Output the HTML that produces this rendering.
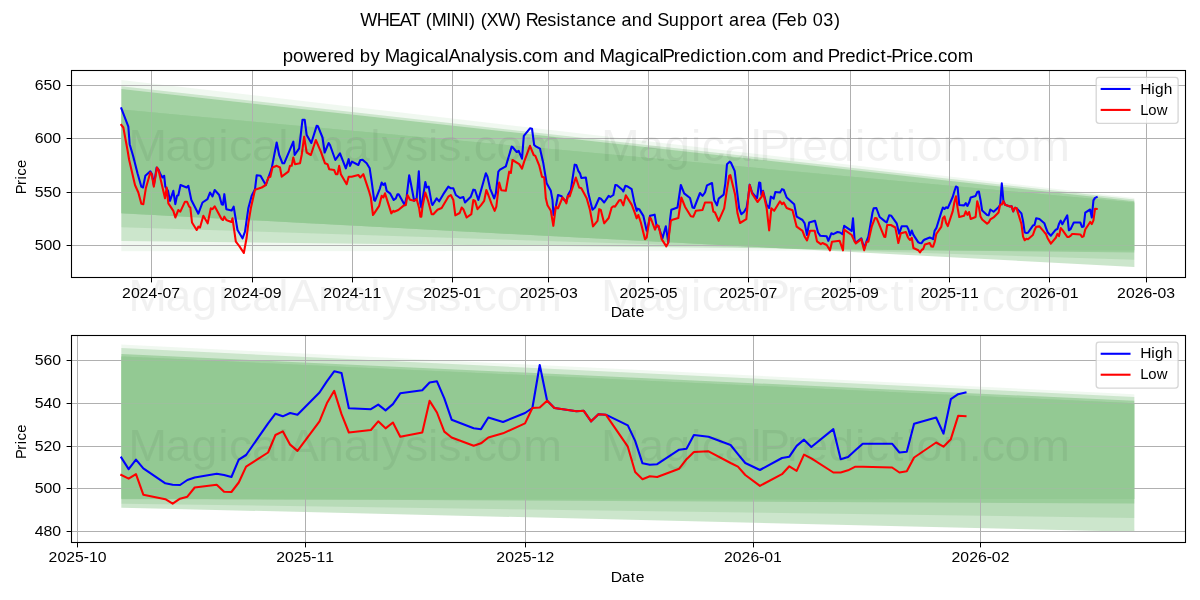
<!DOCTYPE html>
<html><head><meta charset="utf-8"><title>WHEAT (MINI) (XW) Resistance and Support area</title>
<style>html,body{margin:0;padding:0;background:#fff;font-family:"Liberation Sans",sans-serif}svg{display:block;will-change:transform}</style>
</head><body>
<svg width="1200" height="600" viewBox="0 0 1200 600">
<defs>
<clipPath id="c1"><rect x="71.5" y="70.5" width="1114.0" height="207.0"/></clipPath>
<clipPath id="c2"><rect x="71.5" y="335.5" width="1114.0" height="207.0"/></clipPath>
</defs>
<rect width="1200" height="600" fill="#fff"/>
<g clip-path="url(#c1)">
<polygon points="121.30,79.90 1134.35,198.00 1134.35,250.30 121.30,251.30" fill="#008000" fill-opacity="0.060"/>
<polygon points="121.30,86.30 1134.35,199.40 1134.35,252.60 121.30,241.00" fill="#008000" fill-opacity="0.150"/>
<polygon points="121.30,109.50 1134.35,202.60 1134.35,259.80 121.30,227.30" fill="#008000" fill-opacity="0.100"/>
<polygon points="121.30,89.00 1134.35,201.30 1134.35,267.00 121.30,213.30" fill="#008000" fill-opacity="0.200"/>
<path d="M151.5 70.5V277.5M252.5 70.5V277.5M352.5 70.5V277.5M452.5 70.5V277.5M548.5 70.5V277.5M648.5 70.5V277.5M748.5 70.5V277.5M850.5 70.5V277.5M949.5 70.5V277.5M1049.5 70.5V277.5M1146.5 70.5V277.5M71.5 245.5H1185.5M71.5 192.5H1185.5M71.5 138.5H1185.5M71.5 85.5H1185.5" stroke="#b0b0b0" stroke-width="1" fill="none"/>
<polygon points="121.30,109.50 138.18,111.05 155.07,112.60 171.95,114.16 188.84,115.71 205.72,117.26 222.61,118.81 239.49,120.36 256.37,121.91 273.26,123.47 290.14,125.02 307.03,126.57 323.91,128.12 340.79,129.67 357.68,131.22 374.56,132.78 391.45,134.33 408.33,135.88 425.21,137.43 442.10,138.98 458.98,140.53 475.87,142.08 492.75,143.64 509.64,145.19 526.52,146.74 543.40,148.29 560.29,149.84 577.17,151.39 594.06,152.95 610.94,154.50 627.82,156.05 644.71,157.60 661.59,159.15 678.48,160.70 695.36,162.26 712.25,163.81 729.13,165.36 746.01,166.91 762.90,168.46 779.78,170.01 796.67,171.57 813.55,173.12 830.43,174.67 847.32,176.22 864.20,177.77 881.09,179.32 897.97,180.88 914.86,182.43 931.74,183.98 948.62,185.53 965.51,187.08 982.39,188.63 999.28,190.19 1016.16,191.74 1033.05,193.29 1049.93,194.84 1066.81,196.39 1083.70,197.94 1100.58,199.50 1117.47,201.05 1134.35,202.60 1134.35,250.30 1117.47,250.32 1100.58,250.33 1083.70,250.35 1066.81,250.37 1049.93,250.38 1033.05,250.40 1016.16,250.42 999.28,250.43 982.39,250.45 965.51,250.47 948.62,250.47 931.74,250.28 914.86,250.09 897.97,249.89 881.09,249.70 864.20,249.51 847.32,249.31 830.43,249.12 813.55,248.93 796.67,248.73 779.78,248.21 762.90,247.31 746.01,246.42 729.13,245.52 712.25,244.62 695.36,243.73 678.48,242.84 661.59,241.94 644.71,241.05 627.82,240.15 610.94,239.25 594.06,238.36 577.17,237.47 560.29,236.57 543.40,235.68 526.52,234.78 509.64,233.89 492.75,232.99 475.87,232.09 458.98,231.20 442.10,230.31 425.21,229.41 408.33,228.52 391.45,227.62 374.56,226.73 357.68,225.83 340.79,224.94 323.91,224.04 307.03,223.15 290.14,222.25 273.26,221.36 256.37,220.46 239.49,219.56 222.61,218.67 205.72,217.78 188.84,216.88 171.95,215.99 155.07,215.09 138.18,214.20 121.30,213.30" fill="#94ca94" fill-opacity="0.65"/>
<polyline points="121.33,108.33 128.33,126.67 129.67,144.17 133.33,156.67 137.50,173.33 141.33,186.67 143.00,187.50 145.33,175.83 150.33,171.33 152.00,174.17 153.83,185.00 156.67,167.50 158.67,170.00 160.33,174.17 162.50,177.50 164.17,175.83 165.33,186.67 168.00,190.83 170.00,200.83 173.33,190.83 175.33,204.17 177.00,195.83 178.33,195.33 180.50,185.00 186.67,187.50 188.33,185.83 191.33,200.00 198.33,213.67 202.50,202.50 207.50,199.17 210.00,192.50 212.50,196.33 214.67,190.00 219.17,195.00 221.67,204.17 223.00,204.67 224.33,194.17 226.33,209.17 231.67,210.50 233.67,206.67 237.50,230.00 242.50,238.33 245.00,231.67 248.33,208.33 251.67,195.83 255.00,189.17 256.67,175.33 260.50,175.83 265.83,185.00 271.67,168.33 276.67,142.50 279.17,155.00 282.50,163.33 284.17,163.33 293.33,141.67 294.67,155.00 299.17,148.33 302.50,119.67 304.67,119.67 306.67,135.00 311.33,143.00 316.67,125.83 318.00,126.33 322.50,137.50 324.67,152.50 328.67,143.00 330.00,145.00 335.33,160.00 340.00,153.33 345.83,168.33 348.67,159.17 350.00,165.83 352.00,161.67 358.33,165.00 360.33,160.00 362.50,159.67 366.67,163.33 369.67,168.33 371.67,181.67 374.17,200.00 375.00,200.83 380.00,188.33 381.67,182.50 383.33,185.00 385.00,183.33 386.67,190.83 390.00,193.33 393.67,200.00 395.83,198.33 397.50,194.17 398.67,194.17 404.67,205.00 406.67,196.67 409.17,175.33 410.83,183.33 414.17,200.83 416.67,198.33 418.83,171.33 420.33,203.33 421.33,207.50 425.33,182.00 426.67,187.50 428.67,186.67 431.67,203.33 432.50,205.00 436.67,198.33 439.17,201.33 443.33,194.17 448.33,186.67 450.83,188.33 453.33,188.33 455.83,195.00 460.00,198.00 463.33,197.00 465.00,202.50 470.83,196.67 473.33,189.67 475.00,190.00 478.33,200.00 485.83,173.33 487.50,176.67 490.00,188.33 494.17,198.33 495.83,193.33 498.33,171.67 500.00,169.67 505.83,166.33 511.67,146.67 512.50,147.00 516.67,152.00 518.67,150.83 522.00,158.67 523.83,135.83 530.00,128.33 532.00,128.67 534.17,145.00 535.83,146.33 540.00,148.67 543.33,163.33 546.67,183.33 550.83,190.83 552.50,200.00 553.50,215.00 555.83,206.67 558.00,195.00 561.67,196.33 563.33,199.17 566.33,201.67 568.00,195.00 570.83,190.00 574.67,164.67 576.33,165.00 578.33,170.83 580.00,173.33 581.33,178.00 585.83,177.50 588.33,193.33 592.50,209.67 595.00,207.50 599.17,198.00 600.83,198.67 604.17,202.50 608.67,195.83 610.33,197.00 613.33,195.00 615.33,185.00 617.00,185.33 622.50,190.00 623.33,191.33 625.33,185.83 627.00,186.17 631.67,189.17 634.17,201.67 636.67,210.83 637.50,208.67 639.17,209.17 643.33,215.83 646.67,230.83 647.50,229.17 650.00,215.83 654.67,214.67 656.67,226.67 658.33,225.83 662.50,238.33 665.83,226.33 668.33,242.50 670.00,220.00 671.33,209.67 677.50,207.50 680.83,185.00 684.17,193.33 690.00,198.00 692.50,207.50 694.17,208.00 700.00,193.00 702.50,195.83 705.00,192.50 707.00,185.33 712.00,183.00 714.17,200.00 717.00,205.33 718.67,198.67 723.67,194.67 725.33,183.33 727.00,164.17 729.67,161.67 730.83,162.50 734.67,170.83 736.67,188.33 739.17,208.33 741.33,214.17 744.17,211.67 746.67,207.50 748.33,196.67 749.67,184.67 752.00,192.50 757.00,198.33 759.17,182.50 760.33,183.00 761.33,195.00 763.00,190.83 766.67,205.00 769.17,208.00 770.83,196.67 773.67,198.67 775.33,192.00 780.00,192.50 782.00,189.17 783.67,189.67 786.67,197.50 794.17,204.17 796.67,216.67 802.50,220.00 804.67,223.33 807.00,235.00 809.17,222.50 815.00,220.83 818.00,232.50 820.33,235.83 826.67,236.33 828.33,240.83 831.33,233.33 833.33,234.17 837.50,232.00 840.00,232.50 842.50,234.17 844.17,225.83 851.67,230.83 853.00,218.33 854.67,240.83 855.83,242.50 861.33,238.33 864.17,248.33 866.67,240.83 868.33,236.67 872.50,212.50 873.67,208.33 876.33,208.00 879.67,217.00 885.00,221.33 886.67,222.50 889.17,215.33 891.33,215.83 896.67,223.33 899.17,233.67 901.67,226.33 907.00,226.33 908.50,229.46 910.14,235.28 911.77,230.54 913.41,234.86 918.32,242.34 919.96,243.01 921.59,243.17 923.23,240.68 924.87,239.43 929.78,237.52 931.41,238.19 933.05,239.18 934.69,230.54 936.32,228.21 941.23,212.41 942.87,207.59 944.51,208.92 946.14,207.26 947.78,208.09 952.69,197.03 954.33,191.46 955.96,186.47 957.60,187.31 959.24,204.93 964.15,205.35 965.78,203.10 967.42,205.93 969.05,202.85 970.69,197.45 975.60,195.95 977.24,192.04 978.87,191.46 980.51,199.94 982.15,210.58 987.06,214.91 988.69,215.32 990.33,209.50 993.60,211.75 998.51,207.26 1000.15,204.76 1001.79,183.31 1003.42,201.02 1005.06,204.76 1009.97,206.43 1011.61,206.18 1013.24,211.42 1014.88,207.84 1016.52,208.09 1021.43,213.41 1023.06,221.14 1024.70,232.37 1026.34,233.03 1027.97,232.78 1032.88,225.55 1034.52,225.05 1036.16,218.23 1039.43,219.06 1044.34,223.22 1045.97,227.79 1047.61,232.20 1050.88,235.69 1055.79,229.71 1057.43,229.04 1059.07,223.64 1060.70,220.56 1062.34,224.22 1067.25,215.32 1068.89,230.29 1070.52,229.21 1072.16,225.88 1073.80,222.56 1080.34,222.56 1081.98,226.96 1083.62,226.55 1085.25,212.58 1090.16,209.50 1091.80,217.57 1093.44,200.36 1095.07,197.86 1096.71,197.03" fill="none" stroke="#0000ff" stroke-width="2.08" stroke-linejoin="round" stroke-linecap="square"/>
<polyline points="121.33,125.00 123.33,127.50 127.50,150.00 129.17,160.00 135.00,185.00 138.33,192.50 141.33,203.67 143.33,204.17 145.83,188.33 150.33,172.50 151.67,174.17 153.83,186.67 157.00,167.50 158.67,170.83 162.50,187.50 165.00,198.33 166.67,187.50 168.33,203.33 173.33,210.83 175.33,217.50 178.33,210.00 180.33,211.67 185.00,201.67 187.00,201.67 189.17,206.67 190.33,207.50 192.00,222.50 196.67,230.00 198.33,226.67 200.00,227.50 203.33,215.83 207.67,223.33 210.83,208.33 212.50,209.17 214.67,206.33 221.67,219.17 223.00,220.00 224.33,216.67 226.33,220.00 231.33,222.00 232.50,218.33 235.83,241.67 239.17,245.83 243.83,253.00 246.67,237.50 248.33,223.33 250.83,208.33 255.00,189.67 261.67,187.50 265.83,185.00 268.33,177.50 270.33,176.67 272.50,167.50 276.67,165.83 280.00,167.50 281.67,176.67 288.33,171.67 290.00,165.83 291.67,165.83 293.33,157.50 295.00,164.17 300.00,163.33 301.67,155.00 304.17,136.67 306.67,152.50 310.83,155.00 315.83,140.00 320.83,151.67 325.00,163.33 327.50,164.17 329.17,169.17 334.17,170.00 335.83,174.17 337.50,174.17 339.17,165.83 340.83,174.17 346.67,184.17 348.67,176.67 351.67,176.67 358.33,175.00 360.33,177.50 363.33,174.17 369.17,191.67 370.83,197.50 373.00,215.00 374.17,213.33 379.17,205.83 381.67,195.83 383.33,197.50 385.00,193.33 391.33,213.33 393.33,210.83 394.17,211.67 398.33,210.00 403.33,205.83 405.83,205.00 407.50,195.00 410.00,199.67 414.17,200.83 416.67,199.17 419.17,208.33 420.33,216.67 421.33,216.67 422.50,206.67 425.33,192.50 428.33,201.67 431.67,214.17 433.33,214.17 437.50,209.67 441.67,208.00 448.33,196.67 450.83,195.00 453.33,200.00 455.33,215.33 459.67,213.00 461.67,207.50 463.33,209.17 466.67,217.50 471.33,214.17 473.33,200.00 475.00,200.83 477.50,209.17 480.83,205.33 484.17,200.83 486.33,190.00 488.33,195.00 491.67,204.17 494.67,210.83 496.33,206.67 499.17,182.50 501.33,190.33 505.83,190.83 509.17,171.67 510.83,173.00 512.50,160.00 519.17,164.17 522.00,168.67 524.17,161.67 530.00,145.83 533.67,155.00 535.33,155.83 539.17,165.33 542.00,176.67 544.17,177.50 545.83,198.33 547.50,205.33 550.83,210.83 553.33,225.83 555.83,206.67 558.00,208.33 562.50,197.50 564.17,199.17 566.33,203.33 568.00,195.83 569.67,196.33 575.83,177.50 579.17,187.50 581.33,188.33 586.67,198.33 590.00,210.00 593.00,226.33 597.50,220.83 599.17,209.17 600.83,210.00 604.17,223.33 608.67,218.00 611.67,207.50 613.33,206.33 615.00,206.67 619.17,200.33 620.83,200.00 623.33,205.33 625.83,195.33 631.67,204.67 635.00,213.33 636.67,218.33 638.33,215.00 640.83,222.50 645.00,239.17 646.67,237.50 649.67,217.50 650.83,218.33 655.00,229.67 657.00,225.00 658.67,226.33 661.67,239.17 666.33,246.33 668.00,243.33 670.83,220.83 672.50,219.67 678.33,218.00 681.33,197.50 685.00,206.67 690.83,216.33 693.33,216.67 695.83,210.83 702.50,210.00 705.00,202.50 711.67,202.50 713.33,211.67 715.00,212.50 718.67,220.83 724.17,208.33 726.67,191.67 729.17,175.83 730.33,175.00 735.00,194.17 737.50,213.33 740.00,223.00 746.33,219.17 748.33,196.67 749.67,185.00 752.00,193.33 757.50,202.00 761.67,196.67 763.00,191.67 766.67,208.33 769.17,230.33 771.33,208.33 774.17,210.83 780.00,201.33 782.00,204.17 783.67,202.50 786.67,208.00 792.50,210.33 796.67,226.67 802.50,230.83 804.67,236.67 807.00,240.33 810.00,230.83 814.67,230.83 817.00,241.33 820.83,244.17 822.50,243.00 826.67,245.00 830.00,250.33 832.00,241.67 839.67,240.83 843.00,250.33 844.17,229.67 851.67,235.00 854.67,241.67 855.83,243.33 861.33,239.17 864.17,250.33 866.67,241.67 868.33,241.67 871.67,226.67 875.00,218.00 876.67,218.33 884.17,236.67 885.33,237.00 887.17,225.00 890.83,225.00 895.33,227.50 898.33,243.00 900.83,233.33 905.83,232.00 908.00,237.50 908.50,238.19 910.14,240.01 911.77,237.77 913.41,248.00 918.32,250.24 919.96,252.49 921.59,249.99 923.23,248.99 924.87,244.42 929.78,243.01 931.41,246.50 933.05,246.67 934.69,241.93 936.32,234.03 941.23,226.96 942.87,218.23 944.51,216.40 946.14,223.05 947.78,226.13 952.69,211.42 954.33,202.44 955.96,196.20 957.60,207.84 959.24,216.99 964.15,215.74 965.78,211.42 967.42,214.91 969.05,212.00 970.69,219.06 975.60,216.99 977.24,201.19 978.87,207.01 980.51,216.57 982.15,219.48 987.06,223.64 988.69,222.39 990.33,219.48 993.60,217.40 998.51,212.41 1000.15,204.76 1001.79,204.51 1003.42,201.11 1005.06,204.76 1009.97,206.43 1011.61,206.18 1013.24,211.42 1014.88,207.84 1016.52,208.09 1021.43,224.05 1023.06,236.69 1024.70,240.26 1026.34,238.85 1027.97,239.18 1032.88,235.03 1034.52,230.29 1036.16,226.71 1039.43,226.38 1044.34,232.20 1045.97,234.03 1047.61,238.19 1050.88,243.59 1055.79,237.77 1057.43,233.86 1059.07,236.11 1060.70,228.04 1062.34,229.87 1067.25,236.94 1068.89,236.94 1070.52,235.86 1072.16,234.03 1073.80,234.03 1080.34,234.44 1081.98,236.94 1083.62,236.36 1085.25,229.46 1090.16,221.97 1091.80,224.05 1093.44,220.31 1095.07,208.67 1096.71,208.84" fill="none" stroke="#ff0000" stroke-width="2.08" stroke-linejoin="round" stroke-linecap="square"/>
</g>
<path d="M151.5 277.5v4.9M252.5 277.5v4.9M352.5 277.5v4.9M452.5 277.5v4.9M548.5 277.5v4.9M648.5 277.5v4.9M748.5 277.5v4.9M850.5 277.5v4.9M949.5 277.5v4.9M1049.5 277.5v4.9M1146.5 277.5v4.9M71.5 245.5h-4.9M71.5 192.5h-4.9M71.5 138.5h-4.9M71.5 85.5h-4.9" stroke="#000" stroke-width="1" fill="none"/>
<rect x="71.5" y="70.5" width="1114.0" height="207.0" fill="none" stroke="#000" stroke-width="1.1"/>
<g clip-path="url(#c2)">
<polygon points="121.30,344.60 1134.35,394.20 1134.35,499.00 121.30,499.50" fill="#008000" fill-opacity="0.060"/>
<polygon points="121.30,348.00 1134.35,397.00 1134.35,503.50 121.30,498.70" fill="#008000" fill-opacity="0.150"/>
<polygon points="121.30,356.50 1134.35,403.30 1134.35,518.00 121.30,503.70" fill="#008000" fill-opacity="0.100"/>
<polygon points="121.30,354.00 1134.35,400.80 1134.35,531.70 121.30,507.70" fill="#008000" fill-opacity="0.200"/>
<path d="M77.5 335.5V542.5M305.5 335.5V542.5M525.5 335.5V542.5M753.5 335.5V542.5M980.5 335.5V542.5M71.5 531.5H1185.5M71.5 488.5H1185.5M71.5 446.5H1185.5M71.5 403.5H1185.5M71.5 360.5H1185.5" stroke="#b0b0b0" stroke-width="1" fill="none"/>
<polygon points="121.30,356.50 138.18,357.28 155.07,358.06 171.95,358.84 188.84,359.62 205.72,360.40 222.61,361.18 239.49,361.96 256.37,362.74 273.26,363.52 290.14,364.30 307.03,365.08 323.91,365.86 340.79,366.64 357.68,367.42 374.56,368.20 391.45,368.98 408.33,369.76 425.21,370.54 442.10,371.32 458.98,372.10 475.87,372.88 492.75,373.66 509.64,374.44 526.52,375.22 543.40,376.00 560.29,376.78 577.17,377.56 594.06,378.34 610.94,379.12 627.82,379.90 644.71,380.68 661.59,381.46 678.48,382.24 695.36,383.02 712.25,383.80 729.13,384.58 746.01,385.36 762.90,386.14 779.78,386.92 796.67,387.70 813.55,388.48 830.43,389.26 847.32,390.04 864.20,390.82 881.09,391.60 897.97,392.38 914.86,393.16 931.74,393.94 948.62,394.72 965.51,395.50 982.39,396.28 999.28,397.06 1016.16,397.84 1033.05,398.62 1049.93,399.40 1066.81,400.18 1083.70,400.96 1100.58,401.74 1117.47,402.52 1134.35,403.30 1134.35,499.00 1117.47,499.01 1100.58,499.02 1083.70,499.02 1066.81,499.03 1049.93,499.04 1033.05,499.05 1016.16,499.06 999.28,499.07 982.39,499.07 965.51,499.08 948.62,499.09 931.74,499.10 914.86,499.11 897.97,499.12 881.09,499.12 864.20,499.13 847.32,499.14 830.43,499.15 813.55,499.16 796.67,499.17 779.78,499.18 762.90,499.18 746.01,499.19 729.13,499.20 712.25,499.21 695.36,499.22 678.48,499.23 661.59,499.23 644.71,499.24 627.82,499.25 610.94,499.26 594.06,499.27 577.17,499.27 560.29,499.28 543.40,499.29 526.52,499.30 509.64,499.31 492.75,499.32 475.87,499.32 458.98,499.33 442.10,499.34 425.21,499.35 408.33,499.36 391.45,499.37 374.56,499.38 357.68,499.38 340.79,499.39 323.91,499.40 307.03,499.41 290.14,499.42 273.26,499.42 256.37,499.34 239.49,499.26 222.61,499.18 205.72,499.10 188.84,499.02 171.95,498.94 155.07,498.86 138.18,498.78 121.30,498.70" fill="#94ca94" fill-opacity="0.65"/>
<polyline points="121.30,457.50 128.64,469.17 135.98,459.67 143.32,468.33 165.34,483.33 172.68,484.67 180.02,485.00 187.36,480.00 194.70,477.50 216.73,473.67 224.07,475.00 231.41,477.00 238.75,459.67 246.09,455.00 268.11,423.33 275.45,413.67 282.80,416.33 290.14,413.00 297.48,414.67 319.50,392.50 326.84,381.33 334.18,371.33 341.52,373.00 348.86,408.33 370.89,409.17 378.23,404.67 385.57,410.33 392.91,404.17 400.25,393.33 422.27,390.33 429.61,382.50 436.95,381.33 444.30,398.33 451.64,419.67 473.66,428.33 481.00,429.17 488.34,417.50 503.02,422.00 525.04,413.00 532.39,408.00 539.73,365.00 547.07,400.50 554.41,408.00 576.43,411.33 583.77,410.83 591.11,421.33 598.45,414.17 605.79,414.67 627.82,425.33 635.16,440.83 642.50,463.33 649.84,464.67 657.18,464.17 679.20,449.67 686.54,448.67 693.89,435.00 708.57,436.67 730.59,445.00 737.93,454.17 745.27,463.00 759.95,470.00 781.98,458.00 789.32,456.67 796.66,445.83 804.00,439.67 811.34,447.00 833.36,429.17 840.70,459.17 848.04,457.00 855.39,450.33 862.73,443.67 892.09,443.67 899.43,452.50 906.77,451.67 914.11,423.67 936.14,417.50 943.48,433.67 950.82,399.17 958.16,394.17 965.50,392.50" fill="none" stroke="#0000ff" stroke-width="2.08" stroke-linejoin="round" stroke-linecap="square"/>
<polyline points="121.30,475.00 128.64,478.67 135.98,474.17 143.32,494.67 165.34,499.17 172.68,503.67 180.02,498.67 187.36,496.67 194.70,487.50 216.73,484.67 224.07,491.67 231.41,492.00 238.75,482.50 246.09,466.67 268.11,452.50 275.45,435.00 282.80,431.33 290.14,444.67 297.48,450.83 319.50,421.33 326.84,403.33 334.18,390.83 341.52,414.17 348.86,432.50 370.89,430.00 378.23,421.33 385.57,428.33 392.91,422.50 400.25,436.67 422.27,432.50 429.61,400.83 436.95,412.50 444.30,431.67 451.64,437.50 473.66,445.83 481.00,443.33 488.34,437.50 503.02,433.33 525.04,423.33 532.39,408.00 539.73,407.50 547.07,400.67 554.41,408.00 576.43,411.33 583.77,410.83 591.11,421.33 598.45,414.17 605.79,414.67 627.82,446.67 635.16,472.00 642.50,479.17 649.84,476.33 657.18,477.00 679.20,468.67 686.54,459.17 693.89,452.00 708.57,451.33 730.59,463.00 737.93,466.67 745.27,475.00 759.95,485.83 781.98,474.17 789.32,466.33 796.66,470.83 804.00,454.67 811.34,458.33 833.36,472.50 840.70,472.50 848.04,470.33 855.39,466.67 862.73,466.67 892.09,467.50 899.43,472.50 906.77,471.33 914.11,457.50 936.14,442.50 943.48,446.67 950.82,439.17 958.16,415.83 965.50,416.17" fill="none" stroke="#ff0000" stroke-width="2.08" stroke-linejoin="round" stroke-linecap="square"/>
</g>
<path d="M77.5 542.5v4.9M305.5 542.5v4.9M525.5 542.5v4.9M753.5 542.5v4.9M980.5 542.5v4.9M71.5 531.5h-4.9M71.5 488.5h-4.9M71.5 446.5h-4.9M71.5 403.5h-4.9M71.5 360.5h-4.9" stroke="#000" stroke-width="1" fill="none"/>
<rect x="71.5" y="335.5" width="1114.0" height="207.0" fill="none" stroke="#000" stroke-width="1.1"/>
<g font-family="Liberation Sans, sans-serif" fill="#000">
<text transform="scale(1.0338 1)" x="348.49 364.42 376.03 386.61 396.30 406.69 411.90 417.59 431.76 436.26 448.53 453.56 459.73 464.94 470.67 481.70 498.13 504.31 508.56 519.82 529.45 538.30 542.30 551.58 557.23 567.25 577.26 586.13 596.07 601.12 611.14 621.34 631.44 635.69 646.86 657.06 667.27 677.29 687.47 694.41 700.12 705.16 715.35 721.29 731.16 741.08 746.29 751.62 760.82 770.87 780.97 786.20 796.43 806.64" y="26.10" font-size="17.50" >WHEAT (MINI) (XW) Resistance and Support area (Feb 03)</text>
<text transform="scale(1.0621 1)" x="266.17 275.93 285.67 298.33 308.32 314.05 323.83 333.72 338.74 348.83 357.90 362.28 376.25 386.01 396.08 400.12 408.73 418.62 422.26 433.54 443.30 453.19 457.57 466.28 474.96 478.78 487.29 492.14 500.74 510.73 525.69 530.54 540.30 550.23 560.12 564.50 578.47 588.24 598.30 602.35 610.95 620.85 623.85 634.47 640.20 649.98 660.05 664.09 673.41 679.14 683.18 692.93 702.81 707.66 716.26 726.25 741.22 746.07 755.82 765.75 775.64 779.44 790.07 795.79 805.58 815.64 819.69 829.00 834.41 839.03 849.66 856.02 860.07 868.69 878.43 883.28 891.88 901.87" y="62.10" font-size="17.50" >powered by MagicalAnalysis.com and MagicalPrediction.com and Predict-Price.com</text>
<text transform="scale(1.0832 1)" x="112.70 120.85 129.00 137.15 145.17 149.93 158.07" y="297.70" font-size="14.58" >2024-07</text>
<text transform="scale(1.0832 1)" x="206.38 214.53 222.68 230.83 238.84 243.60 251.75" y="297.70" font-size="14.58" >2024-09</text>
<text transform="scale(1.0832 1)" x="298.54 306.69 314.84 322.99 331.01 335.76 343.91" y="297.70" font-size="14.58" >2024-11</text>
<text transform="scale(1.0832 1)" x="390.71 398.86 407.01 415.16 423.17 427.93 436.08" y="297.70" font-size="14.58" >2025-01</text>
<text transform="scale(1.0832 1)" x="479.85 488.00 496.15 504.30 512.31 517.07 525.22" y="297.70" font-size="14.58" >2025-03</text>
<text transform="scale(1.0832 1)" x="572.01 580.16 588.31 596.46 604.48 609.24 617.39" y="297.70" font-size="14.58" >2025-05</text>
<text transform="scale(1.0832 1)" x="664.18 672.33 680.48 688.63 696.64 701.40 709.55" y="297.70" font-size="14.58" >2025-07</text>
<text transform="scale(1.0832 1)" x="757.85 766.00 774.15 782.30 790.32 795.07 803.22" y="297.70" font-size="14.58" >2025-09</text>
<text transform="scale(1.0832 1)" x="850.02 858.17 866.32 874.47 882.48 887.24 895.39" y="297.70" font-size="14.58" >2025-11</text>
<text transform="scale(1.0832 1)" x="942.18 950.33 958.48 966.63 974.64 979.40 987.55" y="297.70" font-size="14.58" >2026-01</text>
<text transform="scale(1.0832 1)" x="1031.32 1039.47 1047.62 1055.77 1063.79 1068.55 1076.70" y="297.70" font-size="14.58" >2026-03</text>
<text transform="scale(1.0832 1)" x="44.84 52.99 61.14 69.29 77.30 82.06 90.21" y="562.50" font-size="14.58" >2025-10</text>
<text transform="scale(1.0832 1)" x="254.93 263.08 271.23 279.38 287.39 292.15 300.30" y="562.50" font-size="14.58" >2025-11</text>
<text transform="scale(1.0832 1)" x="458.24 466.39 474.54 482.69 490.70 495.46 503.61" y="562.50" font-size="14.58" >2025-12</text>
<text transform="scale(1.0832 1)" x="668.33 676.48 684.63 692.78 700.79 705.55 713.70" y="562.50" font-size="14.58" >2026-01</text>
<text transform="scale(1.0832 1)" x="878.42 886.57 894.72 902.87 910.88 915.64 923.79" y="562.50" font-size="14.58" >2026-02</text>
<text transform="scale(1.0884 1)" x="31.88 39.99 48.10" y="249.80" font-size="14.58" >500</text>
<text transform="scale(1.0884 1)" x="31.88 39.99 48.10" y="196.80" font-size="14.58" >550</text>
<text transform="scale(1.0884 1)" x="31.88 39.99 48.10" y="142.80" font-size="14.58" >600</text>
<text transform="scale(1.0884 1)" x="31.88 39.99 48.10" y="89.80" font-size="14.58" >650</text>
<text transform="scale(1.0884 1)" x="31.88 39.99 48.10" y="535.80" font-size="14.58" >480</text>
<text transform="scale(1.0884 1)" x="31.88 39.99 48.10" y="492.80" font-size="14.58" >500</text>
<text transform="scale(1.0884 1)" x="31.88 39.99 48.10" y="450.80" font-size="14.58" >520</text>
<text transform="scale(1.0884 1)" x="31.88 39.99 48.10" y="407.80" font-size="14.58" >540</text>
<text transform="scale(1.0884 1)" x="31.88 39.99 48.10" y="364.80" font-size="14.58" >560</text>
<text transform="scale(1.0766 1)" x="567.34 577.46 585.96 590.43" y="316.80" font-size="14.58" >Date</text>
<text transform="scale(1.0766 1)" x="567.34 577.46 585.96 590.43" y="581.60" font-size="14.58" >Date</text>
<g transform="translate(25.9 176.6) rotate(-90)"><text transform="scale(1.0185 1)" x="-17.35 -8.25 -2.75 0.86 8.39" y="0.00" font-size="14.58" >Price</text></g>
<g transform="translate(25.9 441.4) rotate(-90)"><text transform="scale(1.0185 1)" x="-17.35 -8.25 -2.75 0.86 8.39" y="0.00" font-size="14.58" >Price</text></g>
</g>
<rect x="1096.2" y="77.3" width="81.9" height="46.0" rx="2.8" ry="2.8" fill="#fff" fill-opacity="0.8" stroke="#ccc" stroke-opacity="0.8" stroke-width="1.3"/>
<path d="M1101.7 88.97H1129.5" stroke="#0000ff" stroke-width="2.08" stroke-linecap="square"/>
<path d="M1101.7 109.92H1129.5" stroke="#ff0000" stroke-width="2.08" stroke-linecap="square"/>
<g font-family="Liberation Sans, sans-serif" fill="#000">
<text transform="scale(1.0632 1)" x="1072.41 1082.77 1086.29 1094.57" y="93.70" font-size="14.58" >High</text>
<text transform="scale(1.0211 1)" x="1116.77 1124.47 1132.98" y="114.60" font-size="14.58" >Low</text>
</g>
<rect x="1096.2" y="342.1" width="81.9" height="46.0" rx="2.8" ry="2.8" fill="#fff" fill-opacity="0.8" stroke="#ccc" stroke-opacity="0.8" stroke-width="1.3"/>
<path d="M1101.7 353.77H1129.5" stroke="#0000ff" stroke-width="2.08" stroke-linecap="square"/>
<path d="M1101.7 374.72H1129.5" stroke="#ff0000" stroke-width="2.08" stroke-linecap="square"/>
<g font-family="Liberation Sans, sans-serif" fill="#000">
<text transform="scale(1.0632 1)" x="1072.41 1082.77 1086.29 1094.57" y="358.50" font-size="14.58" >High</text>
<text transform="scale(1.0211 1)" x="1116.77 1124.47 1132.98" y="379.40" font-size="14.58" >Low</text>
</g>
<g font-family="Liberation Sans, sans-serif" fill="#000" fill-opacity="0.055">
<text transform="scale(1.0632 1)" x="120.75 155.69 180.11 205.28 215.41 236.94 261.68 270.77 299.00 323.40 348.14 359.08 380.87 402.58 412.14 433.42 445.55 467.06 492.05" y="161.00" font-size="43.75" >MagicalAnalysis.com</text><text transform="scale(1.0632 1)" x="565.34 600.28 624.70 649.87 659.99 681.52 706.26 713.78 740.23 754.61 779.08 804.25 814.38 837.68 852.01 862.12 886.50 911.22 923.34 944.85 969.84" y="161.00" font-size="43.75" >MagicalPrediction.com</text>
<text transform="scale(1.0632 1)" x="120.75 155.69 180.11 205.28 215.41 236.94 261.68 270.77 299.00 323.40 348.14 359.08 380.87 402.58 412.14 433.42 445.55 467.06 492.05" y="311.20" font-size="43.75" >MagicalAnalysis.com</text><text transform="scale(1.0632 1)" x="565.34 600.28 624.70 649.87 659.99 681.52 706.26 713.78 740.23 754.61 779.08 804.25 814.38 837.68 852.01 862.12 886.50 911.22 923.34 944.85 969.84" y="311.20" font-size="43.75" >MagicalPrediction.com</text>
<text transform="scale(1.0632 1)" x="120.75 155.69 180.11 205.28 215.41 236.94 261.68 270.77 299.00 323.40 348.14 359.08 380.87 402.58 412.14 433.42 445.55 467.06 492.05" y="461.00" font-size="43.75" >MagicalAnalysis.com</text><text transform="scale(1.0632 1)" x="565.34 600.28 624.70 649.87 659.99 681.52 706.26 713.78 740.23 754.61 779.08 804.25 814.38 837.68 852.01 862.12 886.50 911.22 923.34 944.85 969.84" y="461.00" font-size="43.75" >MagicalPrediction.com</text>
</g>
</svg>
</body></html>
